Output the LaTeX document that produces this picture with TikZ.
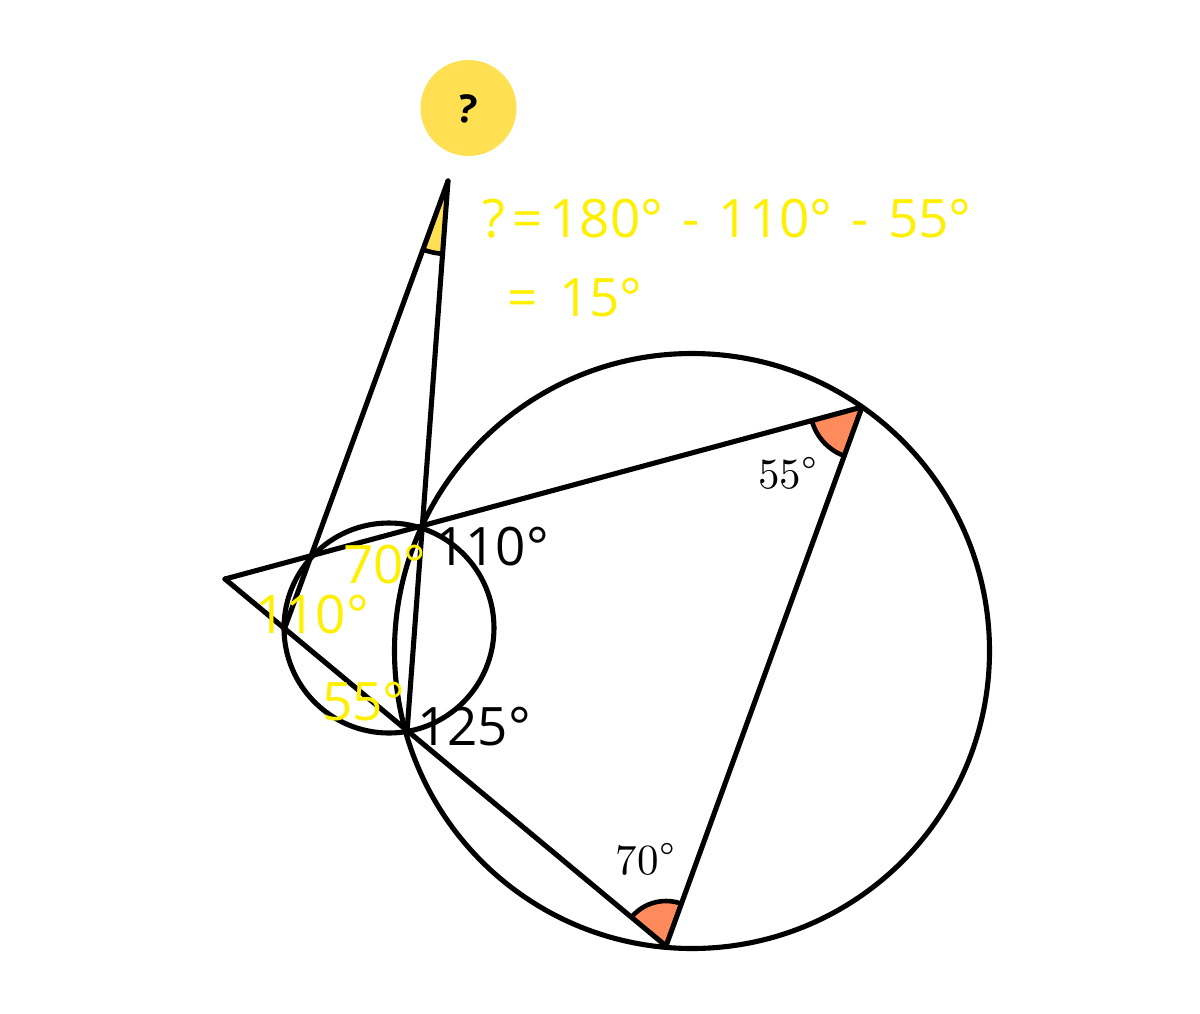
\documentclass[tikz,border=0pt]{standalone}
\usepackage{fontspec}
\setmainfont{Open Sans}
\usepackage{unicode-math}
\setmathfont{Latin Modern Math}
\definecolor{ink}{HTML}{000000}
\definecolor{orangeang}{HTML}{FF8A5B}
\definecolor{yellowang}{HTML}{FFE053}
\definecolor{yellowtxt}{HTML}{FFF000}
\newcommand{\bigdeg}{^{\hbox{\fontsize{38}{38}\selectfont$\circ$}}}
\newcommand{\dashgap}{\kern5.5pt{} - \kern5.5pt{}}
\tikzset{
  geo/.style={draw=ink,line width=5.1pt,line cap=round,line join=round},
  sectorarc/.style={draw=ink,line width=4.6pt},
  blacklabel/.style={text=ink,inner sep=0pt,anchor=base,font=\fontsize{53}{56}\selectfont},
  yellowlabel/.style={text=yellowtxt,inner sep=0pt,anchor=base,font=\fontsize{53}{56}\selectfont},
  mathlabel/.style={text=ink,inner sep=0pt,anchor=base,font=\fontsize{43}{46}\selectfont},
}
\begin{document}
\begin{tikzpicture}[x=1pt,y=-1pt]
\useasboundingbox (0,0) rectangle (1200,1013);
\fill[white] (0,0) rectangle (1200,1013);
\coordinate (A) at (225,579);
\coordinate (B) at (448,181);
\coordinate (P) at (423,525);
\coordinate (Q) at (407,732);
\coordinate (R) at (284,630);
\coordinate (S) at (862,407);
\coordinate (T) at (666,946);
\coordinate (CB) at (692,651);
\coordinate (CS) at (389,628);
% angle sectors
\begin{scope}
\clip (S) -- (A) -- (T) -- cycle;
\path[fill=orangeang,sectorarc] (S) circle[radius=52];
\end{scope}
\begin{scope}
\clip (T) -- (A) -- (S) -- cycle;
\path[fill=orangeang,sectorarc] (T) circle[radius=45];
\end{scope}
\begin{scope}
\clip (B) -- (R) -- (Q) -- cycle;
\path[fill=yellowang,sectorarc] (B) circle[radius=73];
\end{scope}
% circles and lines
\draw[geo] (CB) circle[radius=297.5];
\draw[geo] (CS) circle[radius=105];
\draw[geo] (A) -- (S);
\draw[geo] (A) -- (T);
\draw[geo] (S) -- (T);
\draw[geo] (B) -- (R);
\draw[geo] (B) -- (Q);
% question badge
\node[circle,fill=yellowang,minimum size=96pt,inner sep=0pt] (badge) at (468.5,108) {};
\node[text=ink,inner sep=0pt,rotate=-8] (qmark) at (467.5,109)
  {\bfseries\fontsize{39}{41}\selectfont ?};
% labels
\node[mathlabel] (m55) at (788,488) {$55\bigdeg$};
\node[mathlabel] (m70) at (645.5,874) {$70\bigdeg$};
\node[blacklabel] (b110) at (492,565) {110°};
\node[blacklabel] (b125) at (474,745) {125°};
\node[yellowlabel] (y70) at (385,583) {70°};
\node[yellowlabel] (y110) at (312,633) {110°};
\node[yellowlabel] (y55) at (364,720) {55°};
\node[yellowlabel] (eq1) at (727,237) {?\kern7pt=\kern7pt180°\dashgap 110°\dashgap 55°};
\node[yellowlabel] (eq2) at (575,316) {=\kern8pt{} 15°};
\end{tikzpicture}
\end{document}
